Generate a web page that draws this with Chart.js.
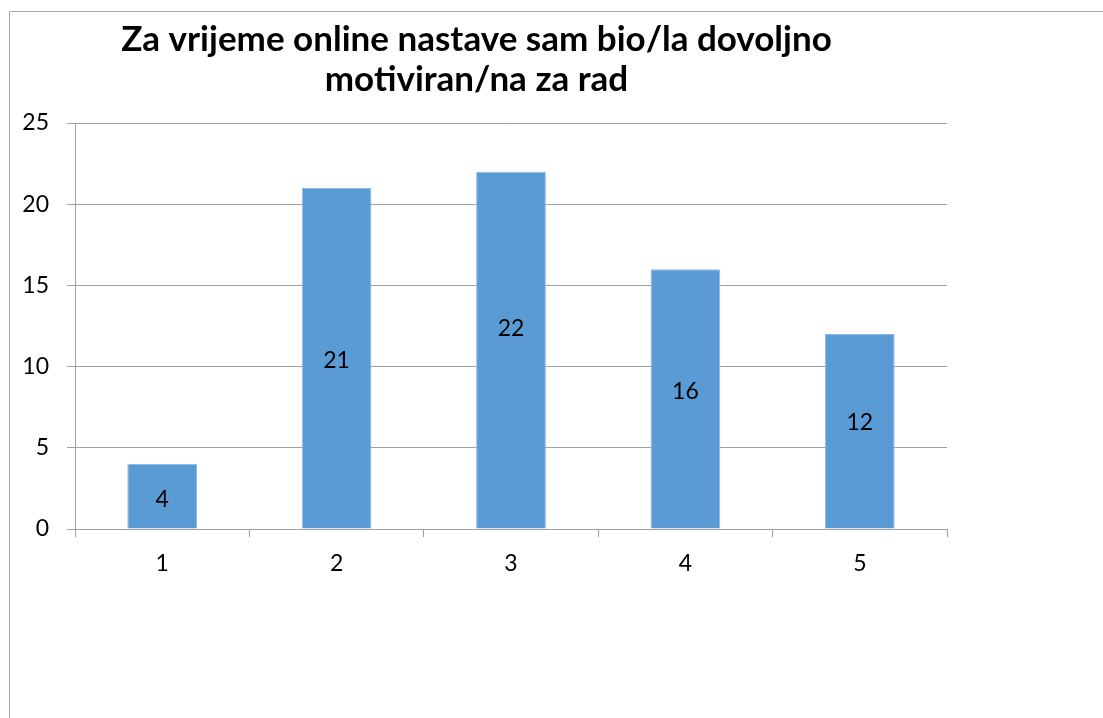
<!DOCTYPE html>
<html>
<head>
<meta charset="utf-8">
<script src="https://cdn.jsdelivr.net/npm/chart.js@4/dist/chart.umd.min.js"></script>
<style>
  html, body { margin: 0; padding: 0; background: #fff; }
  #wrap { position: relative; width: 1103px; height: 718px; }
</style>
</head>
<body>
<div id="wrap"><canvas id="c" width="1103" height="718"></canvas></div>
<script>
// ---- data ----
const titleLines = ['Za vrijeme online nastave sam bio/la dovoljno', 'motiviran/na za rad'];
const categories = ['1', '2', '3', '4', '5'];
const values = [4, 21, 22, 16, 12];
const yMin = 0;
const yMax = 25;
const yStep = 5;

const FONT = 'Lato, "Open Sans", "DejaVu Sans", sans-serif';
const GRID = '#a0a0a0';

const framePlugin = {
  id: 'frame',
  beforeDraw(chart) {
    const ctx = chart.ctx;
    ctx.save();
    ctx.fillStyle = '#ffffff';
    ctx.fillRect(0, 0, chart.width, chart.height);
    ctx.strokeStyle = '#a6a6a6';
    ctx.lineWidth = 1;
    ctx.beginPath();
    ctx.moveTo(9.5, chart.height);
    ctx.lineTo(9.5, 11.5);
    ctx.lineTo(chart.width, 11.5);
    ctx.stroke();
    ctx.restore();
  }
};

// data labels, roughly centred in each bar (with the small manual nudges seen in the original)
const valueLabels = {
  id: 'valueLabels',
  afterDatasetsDraw(chart, args, opts) {
    const ctx = chart.ctx;
    const meta = chart.getDatasetMeta(0);
    const data = chart.data.datasets[0].data;
    const nudges = opts.nudges || [];
    ctx.save();
    ctx.font = '23px ' + FONT;
    ctx.fillStyle = '#000';
    ctx.textAlign = 'center';
    ctx.textBaseline = 'middle';
    meta.data.forEach((bar, i) => {
      const p = bar.getProps(['x', 'y', 'base'], true);
      ctx.fillText(String(data[i]), p.x, (p.y + p.base) / 2 + (nudges[i] || 0));
    });
    ctx.restore();
  }
};

new Chart(document.getElementById('c'), {
  type: 'bar',
  data: {
    labels: categories,
    datasets: [{
      data: values,
      backgroundColor: '#5b9bd5',
      borderColor: '#8fbbe6',
      borderWidth: 1,
      categoryPercentage: 1.0,
      barPercentage: 0.4
    }]
  },
  options: {
    responsive: false,
    animation: false,
    layout: { padding: { top: 12, left: 6, right: 156, bottom: 129 } },
    plugins: {
      legend: { display: false },
      tooltip: { enabled: false },
      valueLabels: { nudges: [3, 2, -22, -7, -9] },
      title: {
        display: true,
        text: titleLines,
        color: '#000',
        font: { family: FONT, size: 35, weight: 'bold', lineHeight: '40px' },
        padding: { top: 8, bottom: 23 }
      }
    },
    scales: {
      x: {
        afterFit(scale) { scale.height = 60; },
        grid: {
          offset: true,
          drawOnChartArea: false,
          drawTicks: true,
          tickLength: 8,
          color: GRID
        },
        border: { display: true, color: GRID, width: 1 },
        ticks: {
          color: '#000',
          padding: 13,
          font: { family: FONT, size: 23 }
        }
      },
      y: {
        min: yMin,
        max: yMax,
        afterFit(scale) { scale.width = 69; },
        grid: {
          drawTicks: true,
          tickLength: 8,
          color: GRID
        },
        border: { display: true, color: GRID, width: 1 },
        ticks: {
          stepSize: yStep,
          color: '#000',
          padding: 18,
          font: { family: FONT, size: 23 }
        }
      }
    }
  },
  plugins: [framePlugin, valueLabels]
});
</script>
</body>
</html>
